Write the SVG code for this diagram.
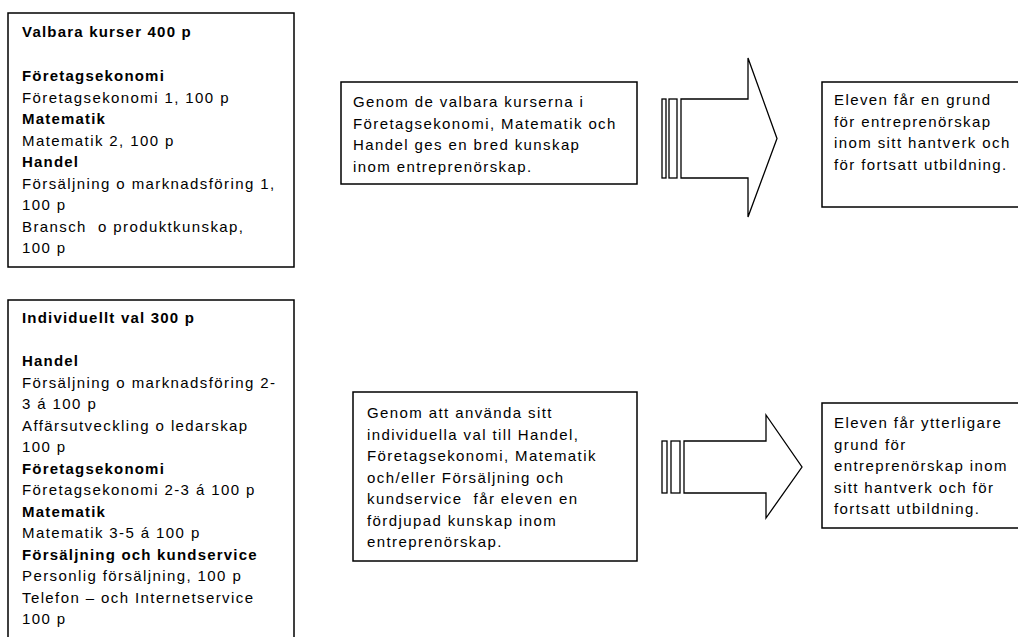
<svg xmlns="http://www.w3.org/2000/svg" width="1018" height="637" viewBox="0 0 1018 637">
<style>
  .box { fill: #fff; stroke: #000; stroke-width: 1.5; }
  .arr { fill: #fff; stroke: #000; stroke-width: 1.3; stroke-linejoin: miter; }
  text { font-family: "Liberation Sans", Arial, sans-serif; font-size: 15px; fill: #000; letter-spacing: 1.4px; }
  .b { font-weight: bold; letter-spacing: 1.2px; }
</style>
<rect x="0" y="0" width="1018" height="637" fill="#fff"/>

<g id="connectors">
  <g id="arrow-top">
    <rect class="arr" x="662" y="99" width="4" height="79"/>
    <rect class="arr" x="669" y="99" width="8" height="79"/>
    <polygon class="arr" points="681,99 748,99 748,58 777,138.5 748,217 748,178 681,178"/>
  </g>
  <g id="arrow-bottom">
    <rect class="arr" x="662" y="441" width="5" height="52"/>
    <rect class="arr" x="671" y="441" width="9" height="52"/>
    <polygon class="arr" points="684,441 766,441 766,415 802,467 766,518 766,493 684,493"/>
  </g>
</g>

<g id="valbara">
  <rect class="box" x="8" y="13" width="286" height="254"/>
  <text x="22" y="37" class="b">Valbara kurser 400 p</text>
  <text x="22" y="81" class="b">Företagsekonomi</text>
  <text x="22" y="102.5">Företagsekonomi 1, 100 p</text>
  <text x="22" y="124" class="b">Matematik</text>
  <text x="22" y="145.5">Matematik 2, 100 p</text>
  <text x="22" y="167" class="b">Handel</text>
  <text x="22" y="188.5">Försäljning o marknadsföring 1,</text>
  <text x="22" y="210">100 p</text>
  <text x="22" y="231.5" xml:space="preserve">Bransch  o produktkunskap,</text>
  <text x="22" y="253">100 p</text>
</g>

<g id="individuellt">
  <rect class="box" x="8" y="300" width="286" height="360"/>
  <text x="22" y="323" class="b">Individuellt val 300 p</text>
  <text x="22" y="366" class="b">Handel</text>
  <text x="22" y="387.5">Försäljning o marknadsföring 2-</text>
  <text x="22" y="409">3 á 100 p</text>
  <text x="22" y="430.5">Affärsutveckling o ledarskap</text>
  <text x="22" y="452">100 p</text>
  <text x="22" y="473.5" class="b">Företagsekonomi</text>
  <text x="22" y="495">Företagsekonomi 2-3 á 100 p</text>
  <text x="22" y="516.5" class="b">Matematik</text>
  <text x="22" y="538">Matematik 3-5 á 100 p</text>
  <text x="22" y="559.5" class="b">Försäljning och kundservice</text>
  <text x="22" y="581">Personlig försäljning, 100 p</text>
  <text x="22" y="602.5">Telefon – och Internetservice</text>
  <text x="22" y="624">100 p</text>
</g>

<g id="genom-valbara">
  <rect class="box" x="341" y="82" width="296" height="102"/>
  <text x="353" y="107">Genom de valbara kurserna i</text>
  <text x="353" y="128.5">Företagsekonomi, Matematik och</text>
  <text x="353" y="150">Handel ges en bred kunskap</text>
  <text x="353" y="171.5">inom entreprenörskap.</text>
</g>

<g id="genom-individuella">
  <rect class="box" x="353" y="392" width="284" height="169"/>
  <text x="367" y="418">Genom att använda sitt</text>
  <text x="367" y="439.5">individuella val till Handel,</text>
  <text x="367" y="461">Företagsekonomi, Matematik</text>
  <text x="367" y="482.5">och/eller Försäljning och</text>
  <text x="367" y="504" xml:space="preserve">kundservice  får eleven en</text>
  <text x="367" y="525.5">fördjupad kunskap inom</text>
  <text x="367" y="547">entreprenörskap.</text>
</g>

<g id="resultat-1">
  <rect class="box" x="822" y="82" width="220" height="125"/>
  <text x="834" y="105">Eleven får en grund</text>
  <text x="834" y="126.5">för entreprenörskap</text>
  <text x="834" y="148">inom sitt hantverk och</text>
  <text x="834" y="169.5">för fortsatt utbildning.</text>
</g>

<g id="resultat-2">
  <rect class="box" x="822" y="403" width="220" height="125"/>
  <text x="834" y="428">Eleven får ytterligare</text>
  <text x="834" y="449.5">grund för</text>
  <text x="834" y="471">entreprenörskap inom</text>
  <text x="834" y="492.5">sitt hantverk och för</text>
  <text x="834" y="514">fortsatt utbildning.</text>
</g>
</svg>
